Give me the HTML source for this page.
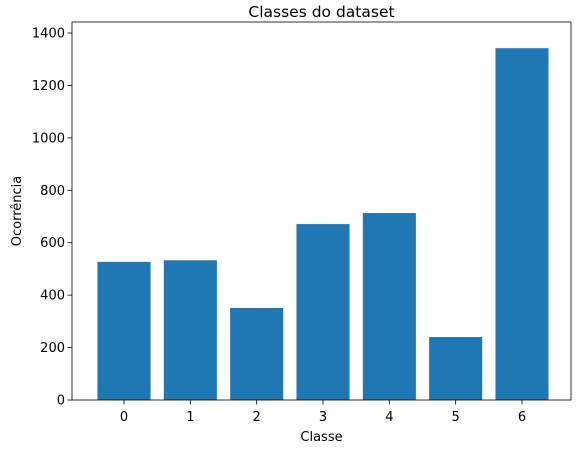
<!DOCTYPE html>
<html><head><meta charset="utf-8"><style>
body{margin:0;background:#fff;}
svg{font-family:"DejaVu Sans","Liberation Sans",sans-serif;}
</style></head><body>
<svg id="chart" width="580" height="453"></svg>
<script>
const categories = ["0","1","2","3","4","5","6"];
const values = [527, 533, 351, 671, 713, 240, 1342];
const yTicks = [0,200,400,600,800,1000,1200,1400];
const svg = document.getElementById('chart');
const NS = 'http://www.w3.org/2000/svg';
const L=72, R=571, T=22, B=400;
const yMax = 1400/((400-33)/(B-T));
function y(v){ return B - v/yMax*(B-T); }
const step = (522-124)/6;
function x(i){ return 124 + i*step; }
function mk(tag, attrs, parent){ const e=document.createElementNS(NS,tag); for(const k in attrs) e.setAttribute(k,attrs[k]); (parent||svg).appendChild(e); return e; }
const bars = mk('g',{});


values.forEach((v,i)=>{
  const bw = step*0.8;
  const r = mk('rect',{x:x(i)-bw/2, y:y(v), width:bw, height:B-y(v), fill:'#1f77b4'}, bars);
  
  
});
const frame = mk('rect',{x:L,y:T,width:R-L,height:B-T,fill:'none',stroke:'#000','stroke-width':0.8});


yTicks.forEach(t=>{
  mk('line',{x1:L-4.5,x2:L,y1:y(t),y2:y(t),stroke:'#000','stroke-width':0.8});
  const tx = mk('text',{x:L-7,y:y(t)+4.5,'text-anchor':'end','font-size':13});
  tx.textContent = t;
  
  
});
categories.forEach((c,i)=>{
  mk('line',{x1:x(i),x2:x(i),y1:B,y2:B+4.5,stroke:'#000','stroke-width':0.8});
  const tx = mk('text',{x:x(i),y:B+21,'text-anchor':'middle','font-size':13});
  tx.textContent = c;
  
  
});
const title = mk('text',{x:(L+R)/2,y:17,'text-anchor':'middle','font-size':15.5});
title.textContent='Classes do dataset';


const xt = mk('text',{x:(L+R)/2,y:441,'text-anchor':'middle','font-size':13});
xt.textContent='Classe';


const yt = mk('text',{x:21,y:(T+B)/2,'text-anchor':'middle','font-size':13,transform:'rotate(-90 21 '+((T+B)/2)+')'});
yt.textContent='Ocorrência';


</script>
</body></html>
